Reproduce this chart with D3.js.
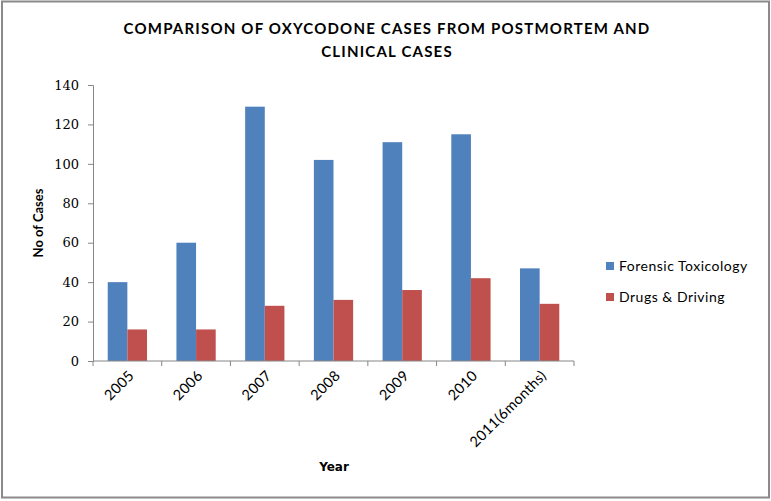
<!DOCTYPE html>
<html>
<head>
<meta charset="utf-8">
<script src="https://cdn.jsdelivr.net/npm/d3@7"></script>
<style>
  html, body { margin: 0; padding: 0; background: #fff; }
  svg text { font-family: Lato, "Open Sans", sans-serif; fill: #000; }
</style>
</head>
<body>
<div id="chart"></div>
<script>
// Chart data
const years = ["2005", "2006", "2007", "2008", "2009", "2010", "2011(6months)"];
const forensic = [40, 60, 129, 102, 111, 115, 47];
const driving = [16, 16, 28, 31, 36, 42, 29];
const seriesNames = ["Forensic Toxicology", "Drugs & Driving"];
const yTicks = [0, 20, 40, 60, 80, 100, 120, 140];

const width = 771;
const height = 501;
const margin = { top: 85, right: 197, bottom: 140, left: 93 }; // plot box 93..574 x 85..361
const colors = ["#4F81BD", "#C0504D"];
const axisColor = "#868686";

const svg = d3.select("#chart")
    .append("svg")
    .attr("width", width)
    .attr("height", height);

// outer frame
svg.append("rect")
    .attr("x", 2).attr("y", 1.5)
    .attr("width", 767).attr("height", 496)
    .attr("fill", "#fff")
    .attr("stroke", "#8a8a8a")
    .attr("stroke-width", 2);

const x = d3.scaleBand()
    .domain(years)
    .range([margin.left, width - margin.right])
    .paddingInner(0)
    .paddingOuter(0);

// two bars per group, gap width 150%
const x1 = d3.scaleBand()
    .domain(seriesNames)
    .range([0, x.bandwidth()])
    .paddingInner(0)
    .paddingOuter(0.75);

const y = d3.scaleLinear()
    .domain([0, 140])
    .range([height - margin.bottom, margin.top]);

// Bars
const rows = years.map((yr, i) => ({ year: yr, values: [forensic[i], driving[i]] }));

svg.append("g")
    .selectAll("g")
    .data(rows)
    .join("g")
    .attr("transform", d => `translate(${x(d.year)},0)`)
    .selectAll("rect")
    .data(d => d.values.map((v, k) => ({ name: seriesNames[k], value: v, k })))
    .join("rect")
    .attr("x", d => x1(d.name))
    .attr("y", d => y(d.value))
    .attr("width", x1.bandwidth())
    .attr("height", d => y(0) - y(d.value))
    .attr("fill", d => colors[d.k]);

// Y axis
const yAxis = svg.append("g")
    .attr("transform", `translate(${margin.left},0)`)
    .call(d3.axisLeft(y).tickValues(yTicks).tickSize(5).tickPadding(9).tickFormat(d3.format("d")));
yAxis.select(".domain").attr("stroke", axisColor);
yAxis.selectAll(".tick line").attr("stroke", axisColor);
yAxis.selectAll("text")
    .style("font-family", "'DejaVu Serif', serif")
    .style("font-size", "13px")
    .attr("fill", "#000");

// X axis: ticks at band boundaries
const xAxis = svg.append("g")
    .attr("transform", `translate(0,${y(0)})`);
xAxis.append("line")
    .attr("x1", margin.left).attr("x2", width - margin.right)
    .attr("stroke", axisColor);
const bounds = years.map(d => x(d)).concat([x(years[years.length - 1]) + x.bandwidth()]);
xAxis.selectAll(".xt")
    .data(bounds)
    .join("line")
    .attr("x1", d => d).attr("x2", d => d)
    .attr("y1", 0).attr("y2", 5)
    .attr("stroke", axisColor);

xAxis.selectAll(".xl")
    .data(years)
    .join("text")
    .attr("transform", d => `translate(${x(d) + x.bandwidth() / 2 + 4},${12}) rotate(-45)`)
    .attr("text-anchor", "end")
    .attr("dy", "0.35em")
    .style("font-size", "14.5px")
    .style("letter-spacing", "0.3px")
    .text(d => d);

// Title
const titleLines = ["COMPARISON OF OXYCODONE CASES FROM POSTMORTEM AND", "CLINICAL CASES"];
svg.append("g")
    .selectAll("text")
    .data(titleLines)
    .join("text")
    .attr("x", 387)
    .attr("y", (d, i) => 34 + i * 23)
    .attr("text-anchor", "middle")
    .style("font-size", "15px")
    .style("font-weight", "bold")
    .style("letter-spacing", "1.2px")
    .text(d => d);

// Axis titles
svg.append("text")
    .attr("transform", `translate(43,${(margin.top + y(0)) / 2}) rotate(-90)`)
    .attr("text-anchor", "middle")
    .style("font-size", "13px")
    .style("font-weight", "bold")
    .text("No of Cases");

svg.append("text")
    .attr("x", 334).attr("y", 471)
    .attr("text-anchor", "middle")
    .style("font-family", "'DejaVu Sans', sans-serif")
    .style("font-size", "12px")
    .style("font-weight", "bold")
    .text("Year");

// Legend
const legend = svg.append("g")
    .selectAll("g")
    .data(seriesNames)
    .join("g")
    .attr("transform", (d, i) => `translate(606,${262 + i * 31})`);
legend.append("rect")
    .attr("width", 8).attr("height", 8)
    .attr("fill", (d, i) => colors[i]);
legend.append("text")
    .attr("x", 13).attr("y", 4)
    .attr("dy", "0.35em")
    .style("font-size", "14px")
    .style("letter-spacing", "0.5px")
    .text(d => d);
</script>
</body>
</html>
